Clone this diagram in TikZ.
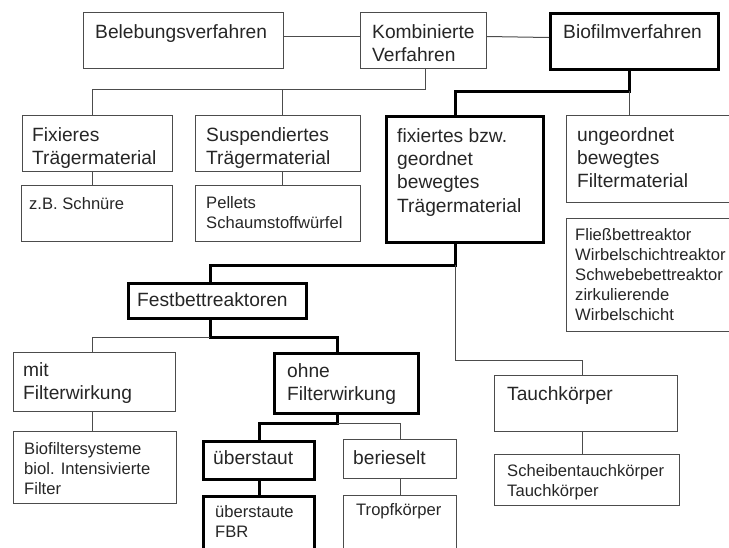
\documentclass[tikz,border=0pt]{standalone}
\usepackage{fontspec}
\setmainfont{Liberation Sans}
\tikzset{
  thinbox/.style={draw=black!70, line width=1pt, inner sep=0pt, anchor=north west},
  thickbox/.style={draw=black, line width=3pt, inner sep=0pt, anchor=north west},
  bigtxt/.style={font=\fontsize{19.2}{23.3}\selectfont, anchor=north west, inner sep=0pt, align=left, text=black!85},
  smalltxt/.style={font=\fontsize{16.6}{20}\selectfont, anchor=north west, inner sep=0pt, align=left, text=black!85},
  thinline/.style={draw=black!70, line width=1pt},
  thickline/.style={draw=black, line width=3pt, line join=miter},
}
\newcommand\mybox[6]{\node[#6, minimum width=#4pt, minimum height=#5pt] (#1) at (#2,#3) {};}
\begin{document}
\begin{tikzpicture}[x=1pt,y=-1pt]
\useasboundingbox (0,0) rectangle (729,547);
\clip (0,0) rectangle (729,547);
% boxes
\mybox{beleb}{83}{12}{200}{56}{thinbox}
\mybox{kombi}{360}{12}{126}{56}{thinbox}
\mybox{bio}{549}{12}{168}{56}{thickbox}
\mybox{fix}{22}{115}{150}{56}{thinbox}
\mybox{susp}{195}{115}{165}{56}{thinbox}
\mybox{fixb}{385}{115}{157}{126}{thickbox}
\mybox{ung}{566}{115}{180}{87}{thinbox}
\mybox{zb}{21}{185}{151}{56}{thinbox}
\mybox{pell}{195}{185}{165}{56}{thinbox}
\mybox{fliess}{566}{218}{180}{113}{thinbox}
\mybox{fest}{127}{282}{178}{35}{thickbox}
\mybox{mit}{13}{352}{162}{59}{thinbox}
\mybox{ohne}{273}{352}{144}{60}{thickbox}
\mybox{biof}{13}{431}{163}{72}{thinbox}
\mybox{ueb}{202}{440}{111}{38}{thickbox}
\mybox{ber}{343}{439}{113}{39}{thinbox}
\mybox{tauch}{494}{375}{183}{56}{thinbox}
\mybox{sch}{494}{454}{185}{51}{thinbox}
\mybox{fbr}{202}{495}{111}{70}{thickbox}
\mybox{tropf}{343}{495}{113}{70}{thinbox}
% texts
\node[bigtxt] (belebT) at (95,24) {Belebungsverfahren};
\node[bigtxt] (kombiT) at (372,24) {Kombinierte\\Verfahren};
\node[bigtxt] (bioT) at (563,24) {Biofilmverfahren};
\node[bigtxt] (fixT) at (32,127) {Fixieres\\Trägermaterial};
\node[bigtxt] (suspT) at (206,127) {Suspendiertes\\Trägermaterial};
\node[bigtxt] (fixbT) at (397,128) {fixiertes bzw.\\geordnet\\bewegtes\\Trägermaterial};
\node[bigtxt] (ungT) at (577,127) {ungeordnet\\bewegtes\\Filtermaterial};
\node[smalltxt] (zbT) at (29,197) {z.B. Schnüre};
\node[smalltxt] (pellT) at (206,196) {Pellets\\Schaumstoffwürfel};
\node[smalltxt] (fliessT) at (575,228) {Fließbettreaktor\\Wirbelschichtreaktor\\Schwebebettreaktor\\zirkulierende\\Wirbelschicht};
\node[bigtxt] (festT) at (137,292) {Festbettreaktoren};
\node[bigtxt] (mitT) at (23,362) {mit\\Filterwirkung};
\node[bigtxt] (ohneT) at (287,363) {ohne\\Filterwirkung};
\node[smalltxt] (biofT) at (24,442) {Biofiltersysteme\\biol. Intensivierte\\Filter};
\node[bigtxt] (uebT) at (213,450) {überstaut};
\node[bigtxt] (berT) at (353,450) {berieselt};
\node[bigtxt] (tauchT) at (507,386) {Tauchkörper};
\node[smalltxt] (schT) at (507,464) {Scheibentauchkörper\\Tauchkörper};
\node[smalltxt] (fbrT) at (215,505) {überstaute\\FBR};
\node[smalltxt] (tropfT) at (356,503) {Tropfkörper};
% helper coordinates
\coordinate (j1) at (425,89);
\coordinate (j2) at (629,91);
\coordinate (j3) at (455,265);
\coordinate (j4) at (455,360);
\coordinate (j5) at (210,337);
\coordinate (j6) at (337,423);
\coordinate (x92) at (92,0);
\coordinate (x282) at (282,0);
\coordinate (x582) at (582,0);
\coordinate (x455) at (455,0);
% connectors
\draw[thinline] ([yshift=4pt]beleb.east) -- ([yshift=4pt]kombi.west);
\draw[thinline] ([yshift=4pt]kombi.east) -- ([yshift=4pt]bio.west);
\draw[thinline] (kombi.south -| j1) -- (j1) -| (fix.north -| x92);
\draw[thinline] (j1 -| x282) -- (susp.north -| x282);
\draw[thickline] (bio.south -| j2) -- (j2) -| (fixb.north -| x455);
\draw[thinline] (j2) -- (j2 |- ung.north);
\draw[thinline] (fix.south -| x92) -- (zb.north -| x92);
\draw[thinline] (susp.south -| x282) -- (pell.north -| x282);
\draw[thickline] (fixb.south -| j3) -- (j3) -| (fest.north -| j5);
\draw[thinline] (j3) -- (j4) -| (tauch.north -| x582);
\draw[thickline] (fest.south -| j5) -- (j5) -| (ohne.north -| j6);
\draw[thinline] (j5) -| (mit.north -| x92);
\draw[thinline] (mit.south -| x92) -- (biof.north -| x92);
\draw[thickline] (ohne.south -| j6) -- (j6) -| (ueb.north);
\draw[thinline] (j6) -| (ber.north);
\draw[thickline] (ueb.south) -- (ueb.south |- fbr.north);
\draw[thinline] (ber.south) -- (ber.south |- tropf.north);
\draw[thinline] (tauch.south -| x582) -- (sch.north -| x582);
\end{tikzpicture}
\end{document}
